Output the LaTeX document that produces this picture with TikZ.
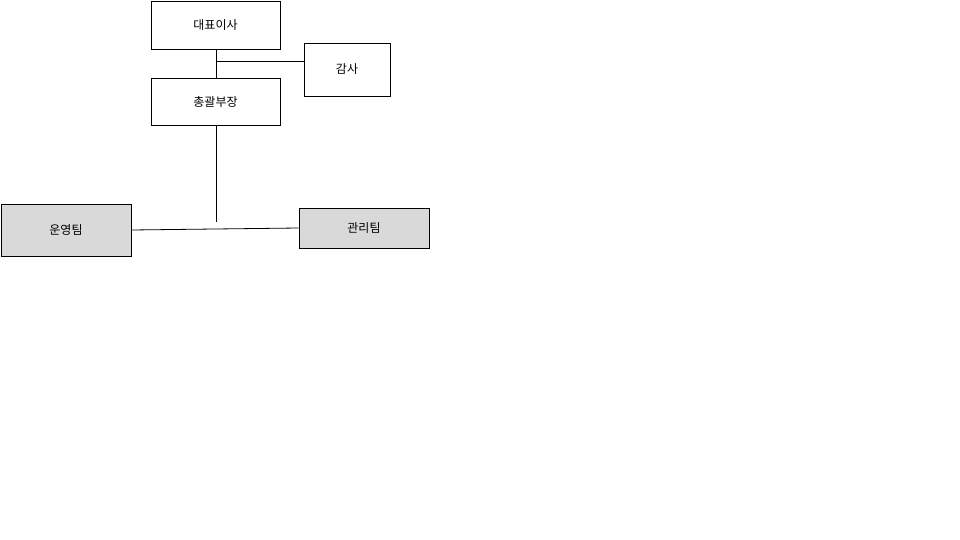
\documentclass[tikz,border=0pt]{standalone}
\usepackage{fontspec}
\usepackage{xcolor}
\usepackage{tikz}
\setmainfont{Noto Sans CJK KR}
\definecolor{teamgray}{HTML}{D9D9D9}

\begin{document}
\begin{tikzpicture}[x=1pt, y=-1pt, font=\fontsize{12}{14}\selectfont]
    % Define styles
    \tikzstyle{post} = [rectangle, draw, fill=white, inner sep=0pt, line width=0.8pt]
    \tikzstyle{team} = [rectangle, draw, fill=teamgray, inner sep=0pt, line width=0.8pt]
    \tikzstyle{link} = [line width=0.8pt]

    % Page
    \useasboundingbox (0,0) rectangle (960,540);

    % Posts
    \node [post, minimum width=129pt, minimum height=48pt] (ceo) at (215.5,25) {대표이사};
    \node [post, minimum width=129pt, minimum height=47pt] (chief) at (215.5,101.5) {총괄부장};
    \node [post, minimum width=86pt, minimum height=53pt] (audit) at (347,69.5) {감사};

    % Teams
    \node [team, minimum width=130pt, minimum height=52pt] (ops) at (66,230) {운영팀};
    \node [team, minimum width=130pt, minimum height=40pt] (admin) at (364,228) {관리팀};

    % Lines
    \coordinate (branch) at (216,61);
    \coordinate (drop) at (216,222);
    \draw [link] (ceo.south -| branch) -- (chief.north -| branch);
    \draw [link] (branch) -- (branch -| audit.west);
    \draw [link] (chief.south -| drop) -- (drop);
    \draw [link] (ops.east) -- (admin.west);
\end{tikzpicture}
\end{document}
